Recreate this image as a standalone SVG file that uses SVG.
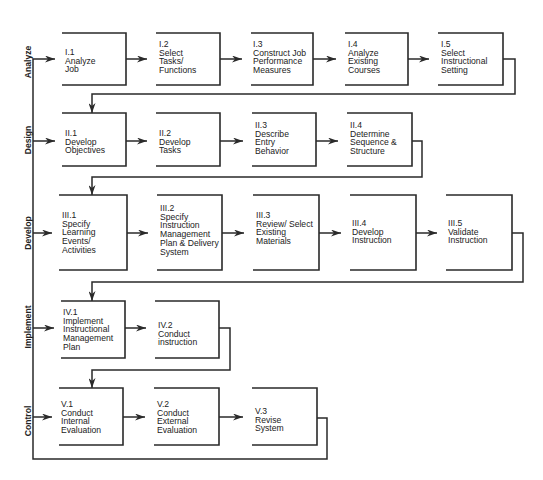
<svg xmlns="http://www.w3.org/2000/svg" width="543" height="480" viewBox="0 0 543 480">
<defs>
<marker id="ah" viewBox="0 0 10 7" refX="10" refY="3.5" markerWidth="10" markerHeight="7" markerUnits="userSpaceOnUse" orient="auto">
<path d="M0,0 L10,3.5 L0,7 L3,3.5 z" fill="#2a2a2a"/>
</marker>
<style>
.box{fill:none;stroke:#2a2a2a;stroke-width:1.6}
.t{font-family:"Liberation Sans",Arial,sans-serif;font-size:8.6px;fill:#222}
.lab{font-family:"Liberation Sans",Arial,sans-serif;font-size:8.6px;font-weight:bold;fill:#222;text-anchor:middle}
.c{fill:none;stroke:#2a2a2a;stroke-width:1.5}
.a{marker-end:url(#ah)}
</style>
</defs>
<rect width="543" height="480" fill="#fff"/>

<g id="labels">
<text class="lab" transform="translate(30.5,62) rotate(-90)">Analyze</text>
<text class="lab" transform="translate(30.5,140) rotate(-90)">Design</text>
<text class="lab" transform="translate(30.5,233) rotate(-90)">Develop</text>
<text class="lab" transform="translate(30.5,327) rotate(-90)">Implement</text>
<text class="lab" transform="translate(30.5,421) rotate(-90)">Control</text>
</g>

<g id="connectors">
<!-- row 1 -->
<path class="c a" d="M126,59 H147"/>
<path class="c a" d="M220,59 H242"/>
<path class="c a" d="M313,59 H336"/>
<path class="c a" d="M408,59 H429"/>
<path class="c a" d="M503,59 H515 V94 H92 V113"/>
<!-- row 2 -->
<path class="c a" d="M126,141 H147"/>
<path class="c a" d="M220,141 H243"/>
<path class="c a" d="M316,141 H338"/>
<path class="c a" d="M412,141 H422 V177 H92 V195"/>
<!-- row 3 -->
<path class="c a" d="M127,233 H148"/>
<path class="c a" d="M222,233 H244"/>
<path class="c a" d="M319,233 H341"/>
<path class="c a" d="M416,233 H437"/>
<path class="c a" d="M512,233 H523 V282 H92 V301"/>
<!-- row 4 -->
<path class="c a" d="M125,328 H146"/>
<path class="c a" d="M219,328 H230 V370 H92 V388"/>
<!-- row 5 -->
<path class="c a" d="M123,417 H145"/>
<path class="c a" d="M219,417 H243"/>
<!-- feedback loop -->
<path class="c" d="M317,418 H327 V459 H33 V59"/>
<path class="c a" d="M33,59 H55"/>
<path class="c a" d="M33,141 H55"/>
<path class="c a" d="M33,233 H52"/>
<path class="c a" d="M33,328 H54"/>
<path class="c a" d="M33,417 H52"/>
</g>

<g id="n-I1"><path class="box" d="M62,33 H126 V85 H62"/>
<text class="t" x="65" y="55"><tspan x="65">I.1</tspan><tspan x="65" dy="8.7">Analyze</tspan><tspan x="65" dy="8.7">Job</tspan></text></g>
<g id="n-I2"><path class="box" d="M156,33 H220 V85 H156"/>
<text class="t" x="159" y="47"><tspan x="159">I.2</tspan><tspan x="159" dy="8.7">Select</tspan><tspan x="159" dy="8.7">Tasks/</tspan><tspan x="159" dy="8.7">Functions</tspan></text></g>
<g id="n-I3"><path class="box" d="M251,33 H313 V85 H251"/>
<text class="t" x="253" y="47"><tspan x="253">I.3</tspan><tspan x="253" dy="8.7">Construct Job</tspan><tspan x="253" dy="8.7">Performance</tspan><tspan x="253" dy="8.7">Measures</tspan></text></g>
<g id="n-I4"><path class="box" d="M345,33 H408 V85 H345"/>
<text class="t" x="348" y="47"><tspan x="348">I.4</tspan><tspan x="348" dy="8.7">Analyze</tspan><tspan x="348" dy="8.7">Existing</tspan><tspan x="348" dy="8.7">Courses</tspan></text></g>
<g id="n-I5"><path class="box" d="M438,33 H503 V85 H438"/>
<text class="t" x="441" y="47"><tspan x="441">I.5</tspan><tspan x="441" dy="8.7">Select</tspan><tspan x="441" dy="8.7">Instructional</tspan><tspan x="441" dy="8.7">Setting</tspan></text></g>

<g id="n-II1"><path class="box" d="M62,113 H126 V166 H62"/>
<text class="t" x="65" y="136"><tspan x="65">II.1</tspan><tspan x="65" dy="8.7">Develop</tspan><tspan x="65" dy="8.7">Objectives</tspan></text></g>
<g id="n-II2"><path class="box" d="M156,113 H220 V166 H156"/>
<text class="t" x="159" y="136"><tspan x="159">II.2</tspan><tspan x="159" dy="8.7">Develop</tspan><tspan x="159" dy="8.7">Tasks</tspan></text></g>
<g id="n-II3"><path class="box" d="M252,113 H316 V166 H252"/>
<text class="t" x="255" y="128"><tspan x="255">II.3</tspan><tspan x="255" dy="8.7">Describe</tspan><tspan x="255" dy="8.7">Entry</tspan><tspan x="255" dy="8.7">Behavior</tspan></text></g>
<g id="n-II4"><path class="box" d="M347,113 H412 V166 H347"/>
<text class="t" x="350" y="128"><tspan x="350">II.4</tspan><tspan x="350" dy="8.7">Determine</tspan><tspan x="350" dy="8.7">Sequence &amp;</tspan><tspan x="350" dy="8.7">Structure</tspan></text></g>

<g id="n-III1"><path class="box" d="M59,195 H127 V270 H59"/>
<text class="t" x="62" y="218"><tspan x="62">III.1</tspan><tspan x="62" dy="8.7">Specify</tspan><tspan x="62" dy="8.7">Learning</tspan><tspan x="62" dy="8.7">Events/</tspan><tspan x="62" dy="8.7">Activities</tspan></text></g>
<g id="n-III2"><path class="box" d="M157,195 H222 V270 H157"/>
<text class="t" x="160" y="211"><tspan x="160">III.2</tspan><tspan x="160" dy="8.7">Specify</tspan><tspan x="160" dy="8.7">Instruction</tspan><tspan x="160" dy="8.7">Management</tspan><tspan x="160" dy="8.7">Plan &amp; Delivery</tspan><tspan x="160" dy="8.7">System</tspan></text></g>
<g id="n-III3"><path class="box" d="M253,195 H319 V270 H253"/>
<text class="t" x="256" y="218"><tspan x="256">III.3</tspan><tspan x="256" dy="8.7">Review/ Select</tspan><tspan x="256" dy="8.7">Existing</tspan><tspan x="256" dy="8.7">Materials</tspan></text></g>
<g id="n-III4"><path class="box" d="M350,195 H416 V270 H350"/>
<text class="t" x="352" y="226"><tspan x="352">III.4</tspan><tspan x="352" dy="8.7">Develop</tspan><tspan x="352" dy="8.7">Instruction</tspan></text></g>
<g id="n-III5"><path class="box" d="M446,195 H512 V270 H446"/>
<text class="t" x="448" y="226"><tspan x="448">III.5</tspan><tspan x="448" dy="8.7">Validate</tspan><tspan x="448" dy="8.7">Instruction</tspan></text></g>

<g id="n-IV1"><path class="box" d="M61,301 H125 V358 H61"/>
<text class="t" x="63" y="315"><tspan x="63">IV.1</tspan><tspan x="63" dy="8.7">Implement</tspan><tspan x="63" dy="8.7">Instructional</tspan><tspan x="63" dy="8.7">Management</tspan><tspan x="63" dy="8.7">Plan</tspan></text></g>
<g id="n-IV2"><path class="box" d="M155,301 H219 V358 H155"/>
<text class="t" x="158" y="328"><tspan x="158">IV.2</tspan><tspan x="158" dy="8.7">Conduct</tspan><tspan x="158" dy="8.7">instruction</tspan></text></g>

<g id="n-V1"><path class="box" d="M59,388 H123 V445 H59"/>
<text class="t" x="61" y="407"><tspan x="61">V.1</tspan><tspan x="61" dy="8.7">Conduct</tspan><tspan x="61" dy="8.7">Internal</tspan><tspan x="61" dy="8.7">Evaluation</tspan></text></g>
<g id="n-V2"><path class="box" d="M154,388 H219 V445 H154"/>
<text class="t" x="157" y="407"><tspan x="157">V.2</tspan><tspan x="157" dy="8.7">Conduct</tspan><tspan x="157" dy="8.7">External</tspan><tspan x="157" dy="8.7">Evaluation</tspan></text></g>
<g id="n-V3"><path class="box" d="M252,388 H317 V445 H252"/>
<text class="t" x="255" y="414"><tspan x="255">V.3</tspan><tspan x="255" dy="8.7">Revise</tspan><tspan x="255" dy="8.7">System</tspan></text></g>
</svg>
